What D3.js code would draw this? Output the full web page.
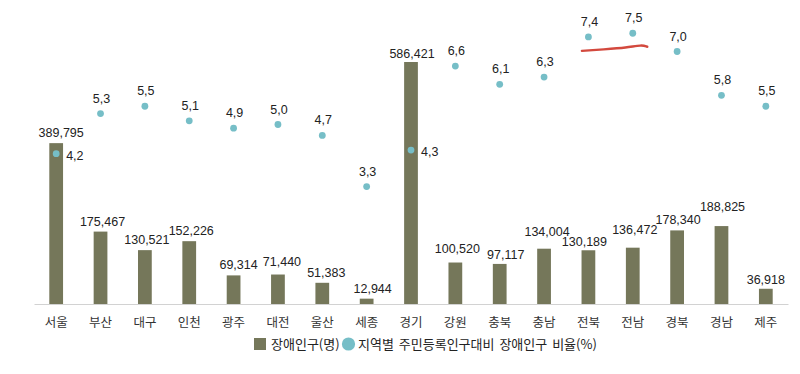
<!DOCTYPE html>
<html>
<head>
<meta charset="utf-8">
<script src="https://cdn.jsdelivr.net/npm/d3@7"></script>
<style>
  body { margin: 0; background: #fff; }
  svg { display: block; font-family: "Liberation Sans", Arial, "Noto Sans CJK KR", sans-serif; }
  .axis path { stroke: #d2d2d2; }
  .axis text { font-size: 12.5px; fill: #333; font-family: "Noto Sans CJK KR", sans-serif; }
  .lbl { font-size: 12.5px; fill: #222; }
  .legend text { font-size: 13px; fill: #222; font-family: "Noto Sans CJK KR", sans-serif; word-spacing: 2px; }
</style>
</head>
<body>
<svg id="chart" width="800" height="374"></svg>
<script>
// 지역
const regions = ['서울', '부산', '대구', '인천', '광주', '대전', '울산', '세종', '경기',
  '강원', '충북', '충남', '전북', '전남', '경북', '경남', '제주']
// 장애인구(명)
const population = [389795, 175467, 130521, 152226, 69314, 71440, 51383, 12944, 586421,
  100520, 97117, 134004, 130189, 136472, 178340, 188825, 36918]
// 지역별 주민등록인구대비 장애인구 비율(%)
const ratio = [4.2, 5.3, 5.5, 5.1, 4.9, 5.0, 4.7, 3.3, 4.3,
  6.6, 6.1, 6.3, 7.4, 7.5, 7.0, 5.8, 5.5]
const legendLabels = ['장애인구(명)', '지역별 주민등록인구대비 장애인구 비율(%)']

// label gap above bars (px), the original nudges some labels up
const barLabelGap = [6, 6, 6, 6, 6, 9, 6, 6, 4, 10, 5, 13, 4, 14, 6, 15, 5]
const barLabelDx = [5, 2, 2, 2, 5, 4, 4, 6, 1, 2, 6, 3, -4, 2, 1, 1, 0]

const barColor = '#75775a'
const dotColor = '#76bec7'

const svg = d3.select('#chart')

const x = d3.scaleBand()
  .domain(regions)
  .range([34, 788])
  .paddingInner(0.69)
  .paddingOuter(0.345)
const cx = d => x(d) + x.bandwidth() / 2

const y = d3.scaleLinear().domain([0, 586421]).range([304, 62])
const y2 = d3.scaleLinear().domain([0, 8]).range([307, 15])

// bars
svg.append('g')
  .selectAll('rect')
  .data(regions)
  .enter()
  .append('rect')
  .attr('x', d => x(d))
  .attr('width', x.bandwidth())
  .attr('y', (d, i) => y(population[i]))
  .attr('height', (d, i) => y(0) - y(population[i]))
  .attr('fill', barColor)

// axis
svg.append('g')
  .attr('class', 'axis')
  .attr('transform', `translate(0,${y(0)})`)
  .call(d3.axisBottom(x).tickSize(0).tickSizeOuter(0).tickPadding(14))
  .call(g => g.selectAll('.tick line').remove())

// bar value labels
svg.append('g')
  .selectAll('text')
  .data(regions)
  .enter()
  .append('text')
  .attr('class', 'lbl')
  .attr('text-anchor', 'middle')
  .attr('x', (d, i) => cx(d) + barLabelDx[i])
  .attr('y', (d, i) => y(population[i]) - barLabelGap[i])
  .text((d, i) => d3.format(',')(population[i]))

// ratio dots
svg.append('g')
  .selectAll('circle')
  .data(regions)
  .enter()
  .append('circle')
  .attr('cx', d => cx(d))
  .attr('cy', (d, i) => y2(ratio[i]))
  .attr('r', 3.4)
  .attr('fill', dotColor)

// ratio labels: beside the dot when the dot sits inside a tall bar
const insideBar = i => y2(ratio[i]) > y(population[i])
svg.append('g')
  .selectAll('text')
  .data(regions)
  .enter()
  .append('text')
  .attr('class', 'lbl')
  .attr('text-anchor', (d, i) => insideBar(i) ? 'start' : 'middle')
  .attr('x', (d, i) => insideBar(i) ? cx(d) + 10 : cx(d) + 1)
  .attr('y', (d, i) => insideBar(i) ? y2(ratio[i]) + 6 : y2(ratio[i]) - 11)
  .text((d, i) => ratio[i].toFixed(1).replace('.', ','))

// red hand-drawn underline under 전북 / 전남
const a = 12, b = 13
const ax = cx(regions[a]), ay = y2(ratio[a])
const bx = cx(regions[b]), by = y2(ratio[b])
const pts = [
  [ax - 6.5, ay + 14],
  [ax + 15, ay + 12.5],
  [bx - 6, by + 14.5],
  [bx + 9, by + 11.5],
  [bx + 14.5, by + 13.5]
]
svg.append('path')
  .attr('d', d3.line().curve(d3.curveBasis)(pts))
  .attr('fill', 'none')
  .attr('stroke', '#d3493e')
  .attr('stroke-width', 2.4)
  .attr('stroke-linecap', 'round')

// legend
const lg = svg.append('g').attr('class', 'legend').attr('transform', 'translate(254,344)')
lg.append('rect').attr('x', 0).attr('y', -6).attr('width', 12).attr('height', 12).attr('fill', barColor)
lg.append('text').attr('x', 17).attr('y', 0).attr('dy', '0.36em').text(legendLabels[0])
lg.append('circle').attr('cx', 94.5).attr('cy', 0).attr('r', 6.6).attr('fill', dotColor)
lg.append('text').attr('x', 104).attr('y', 0).attr('dy', '0.36em').text(legendLabels[1])
</script>
</body>
</html>
